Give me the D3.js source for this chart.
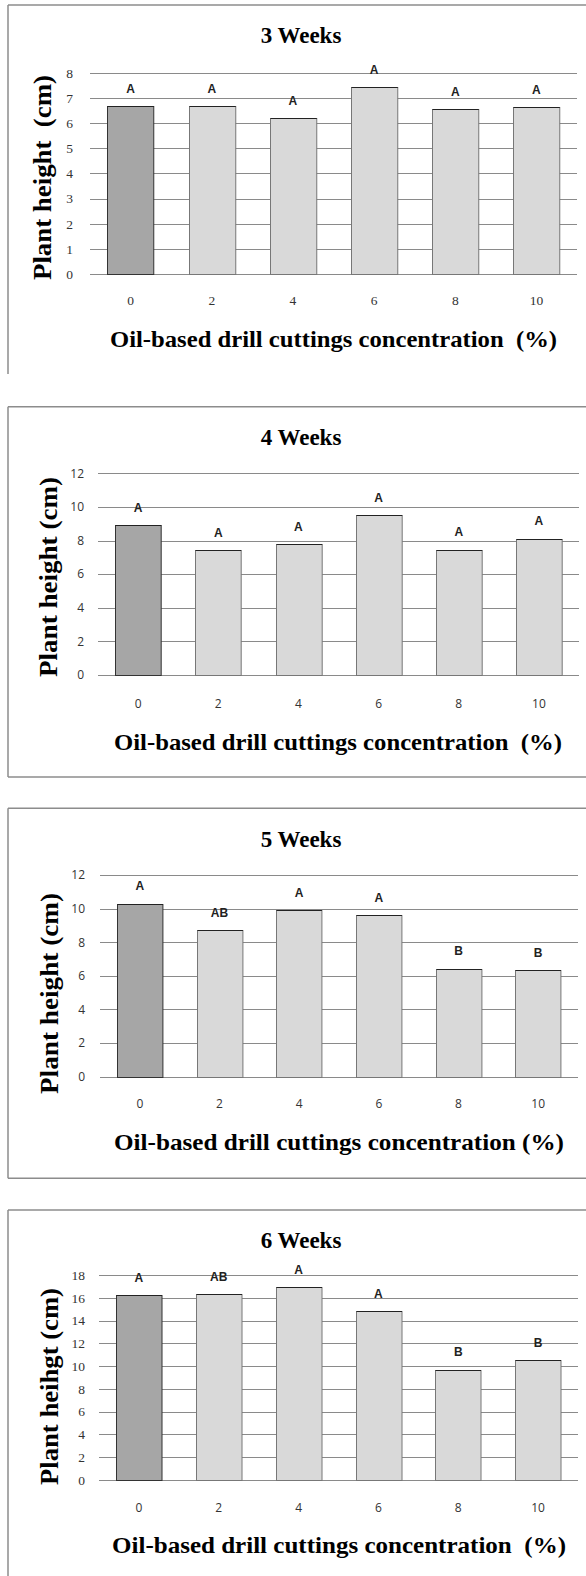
<!DOCTYPE html>
<html><head><meta charset="utf-8"><script src="https://cdn.jsdelivr.net/npm/d3@7"></script></head>
<body style="margin:0">
<script>
var categories = ["0", "2", "4", "6", "8", "10"]

// mean plant height (cm) per week
var week3 = [6.67, 6.67, 6.19, 7.42, 6.55, 6.63]
var week4 = [8.91, 7.42, 7.78, 9.50, 7.44, 8.10]
var week5 = [10.30, 8.71, 9.90, 9.60, 6.41, 6.33]
var week6 = [16.21, 16.33, 16.94, 14.81, 9.66, 10.51]

// significance letters
var letters3 = ["A", "A", "A", "A", "A", "A"]
var letters4 = ["A", "A", "A", "A", "A", "A"]
var letters5 = ["A", "AB", "A", "A", "B", "B"]
var letters6 = ["A", "AB", "A", "A", "B", "B"]

var titles = ["3 Weeks", "4 Weeks", "5 Weeks", "6 Weeks"]
var yTitles = ["Plant height  (cm)", "Plant height (cm)", "Plant height (cm)", "Plant heihgt (cm)"]
var xTitles = ["Oil-based drill cuttings concentration  (%)", "Oil-based drill cuttings concentration  (%)",
  "Oil-based drill cuttings concentration (%)", "Oil-based drill cuttings concentration  (%)"]
var yTicks = [[0, 1, 2, 3, 4, 5, 6, 7, 8], [0, 2, 4, 6, 8, 10, 12], [0, 2, 4, 6, 8, 10, 12],
  [0, 2, 4, 6, 8, 10, 12, 14, 16, 18]]

var series = [week3, week4, week5, week6]
var letterSets = [letters3, letters4, letters5, letters6]

// panel positions (pixels)
var layout = [
  { frameTop: 5, frameBottom: 374, bottomLine: false, left: 90, right: 577, top: 72.7, bottom: 274,
    titleY: 42.7, yLabelX: 50.5, yLabelC: 177.5, yLabelLen: 205, tickRight: 73, xTickY: 305,
    xTitleY: 346.7, xTitleL: 110, xTitleR: 557, yFont: "serif", xFont: "serif" },
  { frameTop: 406.7, frameBottom: 777, bottomLine: true, left: 98, right: 579, top: 473.3, bottom: 675,
    titleY: 445, yLabelX: 57, yLabelC: 577, yLabelLen: 200, tickRight: 84, xTickY: 708,
    xTitleY: 750, xTitleL: 114, xTitleR: 562, yFont: "sans", xFont: "sans" },
  { frameTop: 808.3, frameBottom: 1178.3, bottomLine: true, left: 100, right: 578, top: 875, bottom: 1076.7,
    titleY: 846.7, yLabelX: 58, yLabelC: 993.5, yLabelLen: 201, tickRight: 85, xTickY: 1108,
    xTitleY: 1150, xTitleL: 114, xTitleR: 564, yFont: "sans", xFont: "sans" },
  { frameTop: 1210, frameBottom: 1576, bottomLine: false, left: 99, right: 578, top: 1275, bottom: 1480,
    titleY: 1247.7, yLabelX: 58, yLabelC: 1386.5, yLabelLen: 197, tickRight: 85, xTickY: 1511.7,
    xTitleY: 1553.3, xTitleL: 112, xTitleR: 566, yFont: "serif", xFont: "sans" }
]

var serifFont = "'Liberation Serif', monospace"
var sansFont = "'Open Sans', monospace"
var fonts = { serif: serifFont, sans: sansFont }
var fontSize = { serif: "13.5px", sans: "12px" }

var svg = d3.select("body").append("svg").attr("width", 586).attr("height", 1576)

series.forEach(function(values, i) {
  var L = layout[i]

  // frame
  svg.append("line").attr("x1", 8).attr("x2", 586).attr("y1", L.frameTop).attr("y2", L.frameTop)
    .style("stroke", "#8c8c8c").style("stroke-width", 1.5)
  svg.append("line").attr("x1", 8).attr("x2", 8).attr("y1", L.frameTop).attr("y2", L.frameBottom)
    .style("stroke", "#8c8c8c").style("stroke-width", 1.5)
  if (L.bottomLine) {
    svg.append("line").attr("x1", 8).attr("x2", 586).attr("y1", L.frameBottom).attr("y2", L.frameBottom)
      .style("stroke", "#8c8c8c").style("stroke-width", 1.5)
  }

  var ticks = yTicks[i]
  var y = d3.scaleLinear().domain([0, ticks[ticks.length - 1]]).range([L.bottom, L.top])
  var x = d3.scaleBand().domain(categories).range([L.left, L.right]).paddingInner(0.43).paddingOuter(0.215)

  // gridlines
  svg.selectAll(".grid" + i)
    .data(ticks)
    .enter().append("line")
    .attr("class", "grid" + i)
    .attr("x1", L.left)
    .attr("x2", L.right)
    .attr("y1", function(d) { return Math.round(y(d)) + 0.5 })
    .attr("y2", function(d) { return Math.round(y(d)) + 0.5 })
    .style("stroke", "#8a8a8a")

  // y axis (labels only)
  var yAxis = svg.append("g")
    .attr("transform", "translate(" + L.left + ",0)")
    .call(d3.axisLeft(y).tickValues(ticks).tickSize(0).tickPadding(L.left - L.tickRight).tickFormat(d3.format("d")))
  yAxis.select(".domain").remove()
  yAxis.selectAll("text")
    .style("font-family", fonts[L.yFont])
    .style("font-size", fontSize[L.yFont])
    .style("fill", "#333")

  // bars
  svg.selectAll(".bar" + i)
    .data(values)
    .enter().append("rect")
    .attr("class", "bar" + i)
    .attr("x", function(d, j) { return Math.round(x(categories[j])) + 0.5 })
    .attr("width", x.bandwidth())
    .attr("y", function(d) { return Math.round(y(d)) + 0.5 })
    .attr("height", function(d) { return Math.round(L.bottom) - Math.round(y(d)) })
    .style("fill", function(d, j) { return j === 0 ? "#a6a6a6" : "#d9d9d9" })
    .style("stroke", function(d, j) { return j === 0 ? "#333" : "#777" })

  svg.selectAll(".bartop" + i)
    .data(values)
    .enter().append("line")
    .attr("class", "bartop" + i)
    .attr("x1", function(d, j) { return Math.round(x(categories[j])) + 0.5 })
    .attr("x2", function(d, j) { return Math.round(x(categories[j])) + 0.5 + x.bandwidth() })
    .attr("y1", function(d) { return Math.round(y(d)) + 0.5 })
    .attr("y2", function(d) { return Math.round(y(d)) + 0.5 })
    .style("stroke", "#222")
    .style("stroke-width", 1.2)

  // significance letters
  svg.selectAll(".letter" + i)
    .data(values)
    .enter().append("text")
    .attr("class", "letter" + i)
    .attr("x", function(d, j) { return x(categories[j]) + x.bandwidth() / 2 })
    .attr("y", function(d) { return y(d) - 13.5 })
    .attr("text-anchor", "middle")
    .style("font-family", "'Liberation Sans', monospace")
    .style("font-weight", "bold")
    .style("font-size", "12px")
    .style("fill", "#222")
    .text(function(d, j) { return letterSets[i][j] })

  // x axis (labels only)
  var xAxis = svg.append("g")
    .attr("transform", "translate(0," + L.bottom + ")")
    .call(d3.axisBottom(x).tickSize(0))
  xAxis.select(".domain").remove()
  xAxis.selectAll("text")
    .attr("y", L.xTickY - L.bottom)
    .attr("dy", 0)
    .style("font-family", fonts[L.xFont])
    .style("font-size", fontSize[L.xFont])
    .style("fill", "#333")

  svg.append("text")
    .attr("x", 301)
    .attr("y", L.titleY)
    .attr("text-anchor", "middle")
    .style("font-family", serifFont)
    .style("font-weight", "bold")
    .style("font-size", "23px")
    .text(titles[i])

  svg.append("text")
    .attr("x", L.xTitleL)
    .attr("y", L.xTitleY)
    .attr("textLength", L.xTitleR - L.xTitleL)
    .attr("lengthAdjust", "spacingAndGlyphs")
    .style("font-family", serifFont)
    .style("font-weight", "bold")
    .style("font-size", "23.5px")
    .style("white-space", "pre")
    .text(xTitles[i])

  svg.append("text")
    .attr("transform", "translate(" + L.yLabelX + "," + (L.yLabelC + L.yLabelLen / 2) + ") rotate(-90)")
    .attr("textLength", L.yLabelLen)
    .attr("lengthAdjust", "spacingAndGlyphs")
    .style("font-family", serifFont)
    .style("font-weight", "bold")
    .style("font-size", "26px")
    .style("white-space", "pre")
    .text(yTitles[i])
})
</script>
</body>
</html>
